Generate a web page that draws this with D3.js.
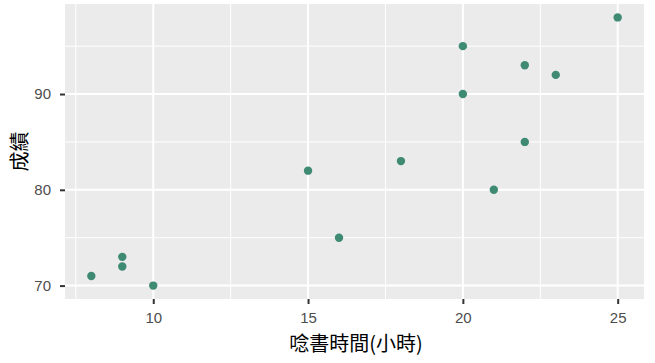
<!DOCTYPE html>
<html>
<head>
<meta charset="utf-8">
<script src="https://cdn.jsdelivr.net/npm/d3@7"></script>
<style>
  body { margin: 0; background: #fff; }
  svg { display: block; }
</style>
</head>
<body>
<svg id="chart" width="655" height="363"></svg>
<script>
// data
const hours = [8, 9, 9, 10, 15, 16, 18, 20, 20, 21, 22, 22, 23, 25];
const scores = [71, 73, 72, 70, 82, 75, 83, 95, 90, 80, 93, 85, 92, 98];
const xTicks = [10, 15, 20, 25];
const yTicks = [70, 80, 90];
const xMinor = [7.5, 12.5, 17.5, 22.5];
const yMinor = [75, 85, 95];

const svg = d3.select('#chart');
const panel = {left: 65, right: 644, top: 4, bottom: 299};

// ggplot-style 5% expansion
const pad = (ext, f = 0.05) => [ext[0] - (ext[1] - ext[0]) * f, ext[1] + (ext[1] - ext[0]) * f];
const x = d3.scaleLinear().domain(pad(d3.extent(hours))).range([panel.left, panel.right]);
const y = d3.scaleLinear().domain(pad(d3.extent(scores))).range([panel.bottom, panel.top]);

svg.append('rect')
	.attr('x', panel.left).attr('y', panel.top)
	.attr('width', panel.right - panel.left).attr('height', panel.bottom - panel.top)
	.attr('fill', '#ebebeb');

const grid = svg.append('g');
const vline = (v, w) => grid.append('line')
	.attr('x1', x(v)).attr('x2', x(v)).attr('y1', panel.top).attr('y2', panel.bottom)
	.attr('stroke', '#fff').attr('stroke-width', w);
const hline = (v, w) => grid.append('line')
	.attr('y1', y(v)).attr('y2', y(v)).attr('x1', panel.left).attr('x2', panel.right)
	.attr('stroke', '#fff').attr('stroke-width', w);
xMinor.forEach(v => vline(v, 1));
yMinor.forEach(v => hline(v, 1));
xTicks.forEach(v => vline(v, 2));
yTicks.forEach(v => hline(v, 2));

// axes
const xAxis = svg.append('g')
	.attr('transform', `translate(0,${panel.bottom})`)
	.call(d3.axisBottom(x).tickValues(xTicks).tickSize(5).tickPadding(8));
const yAxis = svg.append('g')
	.attr('transform', `translate(${panel.left},0)`)
	.call(d3.axisLeft(y).tickValues(yTicks).tickSize(5).tickPadding(9));
[xAxis, yAxis].forEach(a => {
	a.select('.domain').remove();
	a.selectAll('.tick line').attr('stroke', '#333').attr('stroke-width', 2);
	a.selectAll('.tick text')
		.attr('fill', '#4d4d4d')
		.style('font-family', 'Liberation Sans, Arial, sans-serif')
		.style('font-size', '15px');
});

// points
svg.append('g').selectAll('circle')
	.data(hours.map((h, i) => ({h, s: scores[i]})))
	.join('circle')
	.attr('cx', d => x(d.h))
	.attr('cy', d => y(d.s))
	.attr('r', 4.2)
	.attr('fill', '#3f8a73');

// axis titles
svg.append('text')
	.attr('x', 356)
	.attr('y', 351)
	.attr('text-anchor', 'middle')
	.style('font-family', 'Noto Sans CJK TC, sans-serif')
	.style('font-size', '20px')
	.attr('fill', '#000')
	.text('唸書時間(小時)');

svg.append('text')
	.attr('transform', `translate(27,${(panel.top + panel.bottom) / 2}) rotate(-90)`)
	.attr('text-anchor', 'middle')
	.style('font-family', 'Noto Sans CJK TC, sans-serif')
	.style('font-size', '20px')
	.attr('fill', '#000')
	.text('成績');
</script>
</body>
</html>
